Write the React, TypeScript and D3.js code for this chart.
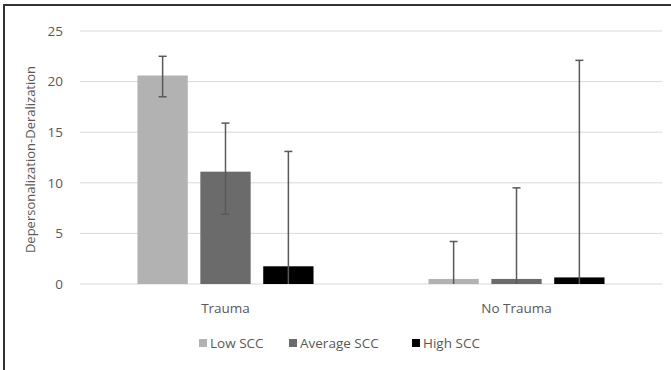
import React from "react";
import * as d3 from "d3";

const groups = ["Trauma", "No Trauma"];
const seriesNames = ["Low SCC", "Average SCC", "High SCC"];
const seriesColors = ["#b2b2b2", "#6b6b6b", "#000000"];
// mean per series, one entry per group
const means = [
  [20.6, 0.5],
  [11.1, 0.5],
  [1.75, 0.65],
];
const errLow = [
  [18.5, 0],
  [6.9, 0],
  [-9.6, -3.2],
];
const errHigh = [
  [22.5, 4.2],
  [15.9, 9.5],
  [13.1, 22.1],
];
const yTicks = [0, 5, 10, 15, 20, 25];

const W = 671;
const H = 370;
const font = "Open Sans, Noto Sans, sans-serif";

export default function App() {
  const left = 80, right = 662, top = 31, bottom = 284;

  const y = d3.scaleLinear().domain([0, 25]).range([bottom, top]);
  const x0 = d3.scaleBand().domain(groups).range([left, right]).paddingInner(0).paddingOuter(0);
  const bw = x0.bandwidth();
  const groupW = bw * 0.605;
  const x1 = d3.scaleBand().domain(seriesNames).range([(bw - groupW) / 2, (bw + groupW) / 2]).paddingInner(0.2);

  const legendX = [199, 289, 412];

  return (
    <div style={{ position: "absolute", left: 0, top: 0 }}>
      <svg width={W} height={H} style={{ display: "block", background: "#fff" }}>
        <defs>
          <clipPath id="plot">
            <rect x={left} y={0} width={right - left} height={bottom} />
          </clipPath>
        </defs>
        <rect x={3} y={4} width={W} height={2} fill="#333" />
        <rect x={3} y={4} width={2} height={H} fill="#333" />

        {yTicks.map(t => (
          <g key={t}>
            <line x1={left} x2={right} y1={y(t)} y2={y(t)} stroke="#d9d9d9" strokeWidth={1} />
            <text x={63} y={y(t)} dy="0.35em" textAnchor="end" fontFamily={font} fontSize={13.5} fill="#595959">{t}</text>
          </g>
        ))}

        <text transform={`translate(35, ${(top + bottom) / 2 + 2}) rotate(-90)`} textAnchor="middle" fontFamily={font} fontSize={13} fill="#595959">
          Depersonalization-Deralization
        </text>

        {seriesNames.map((s, si) => (
          <g key={s}>
            {groups.map((g, gi) => {
              const bx = (x0(g) as number) + (x1(s) as number);
              const w = x1.bandwidth();
              return (
                <rect key={g} x={bx} y={y(means[si][gi])} width={w} height={y(0) - y(means[si][gi])} fill={seriesColors[si]} />
              );
            })}
          </g>
        ))}

        <g clipPath="url(#plot)">
          {seriesNames.map((s, si) =>
            groups.map((g, gi) => {
              const cx = (x0(g) as number) + (x1(s) as number) + x1.bandwidth() / 2;
              const lo = errLow[si][gi];
              const hi = errHigh[si][gi];
              return (
                <g key={s + g} stroke="#595959" strokeWidth={1.5}>
                  <line x1={cx} x2={cx} y1={y(lo)} y2={y(hi)} />
                  <line x1={cx - 4} x2={cx + 4} y1={y(hi)} y2={y(hi)} />
                  {lo > 0 && <line x1={cx - 4} x2={cx + 4} y1={y(lo)} y2={y(lo)} />}
                </g>
              );
            })
          )}
        </g>

        {groups.map(g => (
          <text key={g} x={(x0(g) as number) + bw / 2} y={308} dy="0.35em" textAnchor="middle" fontFamily={font} fontSize={13.5} fill="#595959">{g}</text>
        ))}

        {seriesNames.map((s, si) => (
          <g key={s} transform={`translate(${legendX[si]}, 343)`}>
            <rect x={0} y={-4} width={8} height={8} fill={seriesColors[si]} />
            <text x={11} y={0} dy="0.35em" fontFamily={font} fontSize={13.5} fill="#595959">{s}</text>
          </g>
        ))}
      </svg>
    </div>
  );
}
